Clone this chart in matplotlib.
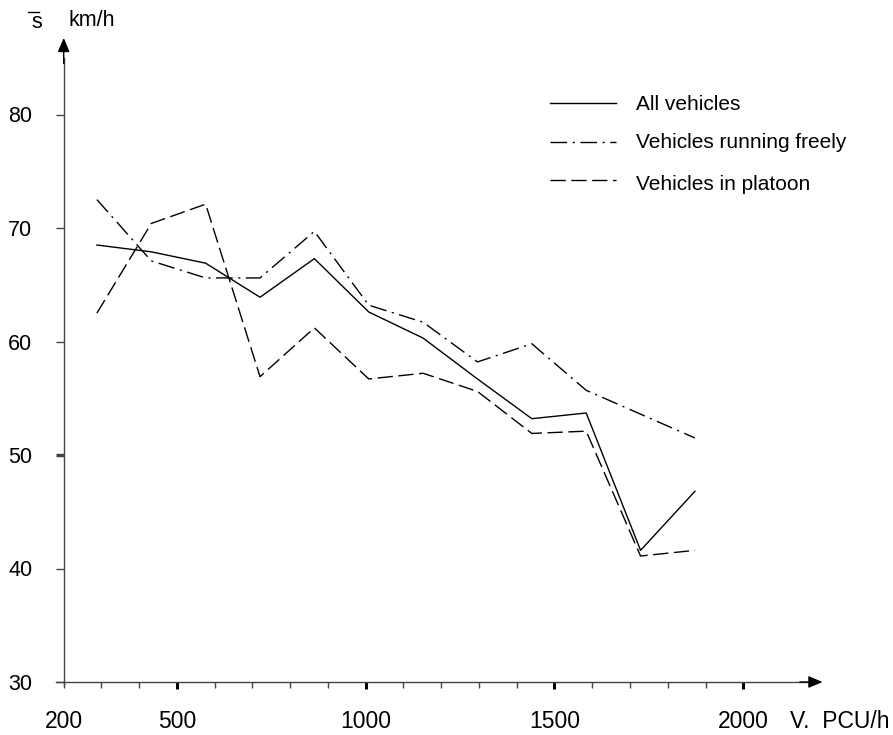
import matplotlib.pyplot as plt
from matplotlib.lines import Line2D
import numpy as np

plt.rcParams["font.family"] = ["Liberation Sans", "DejaVu Sans"]

# traffic volume (PCU/h) and mean speeds (km/h)
volume = [288, 432, 576, 720, 864, 1008, 1152, 1296, 1440, 1584, 1728, 1872]
speed_all = [68.5, 67.9, 66.9, 63.9, 67.3, 62.6, 60.3, 56.7, 53.2, 53.7, 41.6, 46.8]
speed_free = [72.5, 67.1, 65.6, 65.6, 69.7, 63.2, 61.7, 58.2, 59.8, 55.7, 53.6, 51.5]
speed_platoon = [62.5, 70.4, 72.1, 56.9, 61.2, 56.7, 57.2, 55.6, 51.9, 52.1, 41.1, 41.6]

labels = ["All vehicles", "Vehicles running freely", "Vehicles in platoon"]
x_major = [500, 1000, 1500, 2000]
x_minor = [v for v in range(200, 2001, 100) if v not in x_major]
x_labels = [200, 500, 1000, 1500, 2000]
y_ticks = [30, 40, 50, 60, 70, 80]

W, H = 893, 735
fig = plt.figure(figsize=(W / 100, H / 100), dpi=100)
ax = fig.add_axes([0, 0, 1, 1])

# map data onto the canvas: 200 PCU/h at x=63.7px, 30 km/h at y=682px
sx, sy = 0.37753, 11.35
ax.set_xlim(200 - 63.7 / sx, 200 + (W - 63.7) / sx)
ax.set_ylim(30 - (H - 682.0) / sy, 30 + 682.0 / sy)

axis_col = "#444444"
for s in ["top", "right"]:
    ax.spines[s].set_visible(False)
ax.spines["left"].set_position(("data", 200))
ax.spines["bottom"].set_position(("data", 30))
ax.spines["left"].set_bounds(29.7, 85)
ax.spines["bottom"].set_bounds(180, 2180)
for s in ["left", "bottom"]:
    ax.spines[s].set_color(axis_col)
    ax.spines[s].set_linewidth(1.0)

# arrow heads on both axes
ax.annotate("", xy=(200, 86.75), xytext=(200, 84.5),
            arrowprops=dict(arrowstyle="-|>,head_length=0.85,head_width=0.36",
                            color="black", lw=1.0, shrinkA=0, shrinkB=0))
ax.annotate("", xy=(2210, 30), xytext=(2150, 30),
            arrowprops=dict(arrowstyle="-|>,head_length=0.85,head_width=0.36",
                            color="black", lw=1.0, shrinkA=0, shrinkB=0))

ax.set_xticks(x_major)
ax.set_xticks(x_minor, minor=True)
ax.set_xticklabels([])
ax.tick_params(axis="x", which="minor", direction="out", length=4.5,
               width=1.0, color=axis_col)
ax.tick_params(axis="x", which="major", direction="out", length=5,
               width=2.2, color="black")

ax.set_yticks(y_ticks)
ax.set_yticklabels([str(v) for v in y_ticks])
ax.tick_params(axis="y", direction="out", length=5.5, width=1.0,
               color=axis_col, pad=17, labelsize=15.5)
ax.yaxis.get_major_ticks()[2].tick1line.set_markeredgewidth(2.5)
ax.yaxis.get_major_ticks()[2].tick1line.set_color("black")

for v in x_labels:
    ax.text(v, 30 - 40 / sy, str(v), ha="center", va="center", fontsize=16.5)
ax.text(2124, 30 - 40 / sy, "V.  PCU/h", ha="left", va="center", fontsize=16.5)

# curves
ax.plot(volume, speed_all, color="black", lw=1.0, ls="-")
ax.plot(volume, speed_free, color="black", lw=1.0, ls=(0, (12, 4, 1.5, 4)))
ax.plot(volume, speed_platoon, color="black", lw=1.0, ls=(0, (11, 4)))


def px(x, y):
    return x / W, 1 - y / H


# legend
styles = ["-", (0, (12, 4, 1.5, 4)), (0, (11, 4))]
line_y = [103, 142, 180]
text_y = [104, 143, 184]
for lab, st, ly, ty in zip(labels, styles, line_y, text_y):
    (x0, y0), (x1, _) = px(550, ly), px(616, ly)
    fig.add_artist(Line2D([x0, x1], [y0, y0], color="black", lw=1.0, ls=st,
                          transform=fig.transFigure))
    tx, tyf = px(636, ty)
    fig.text(tx, tyf, lab, ha="left", va="center", fontsize=15)

# y-axis title: s with an overline, km/h
sx0, sy0 = px(37, 22)
fig.text(sx0, sy0, "s", ha="center", va="center", fontsize=15.5)
(a0, b0), (a1, _) = px(28, 12), px(39, 12)
fig.add_artist(Line2D([a0, a1], [b0, b0], color="black", lw=1.0,
                      transform=fig.transFigure))
kx, ky = px(68, 20)
fig.text(kx, ky, "km/h", ha="left", va="center", fontsize=15.5)

fig.savefig("out.png", dpi=100)
